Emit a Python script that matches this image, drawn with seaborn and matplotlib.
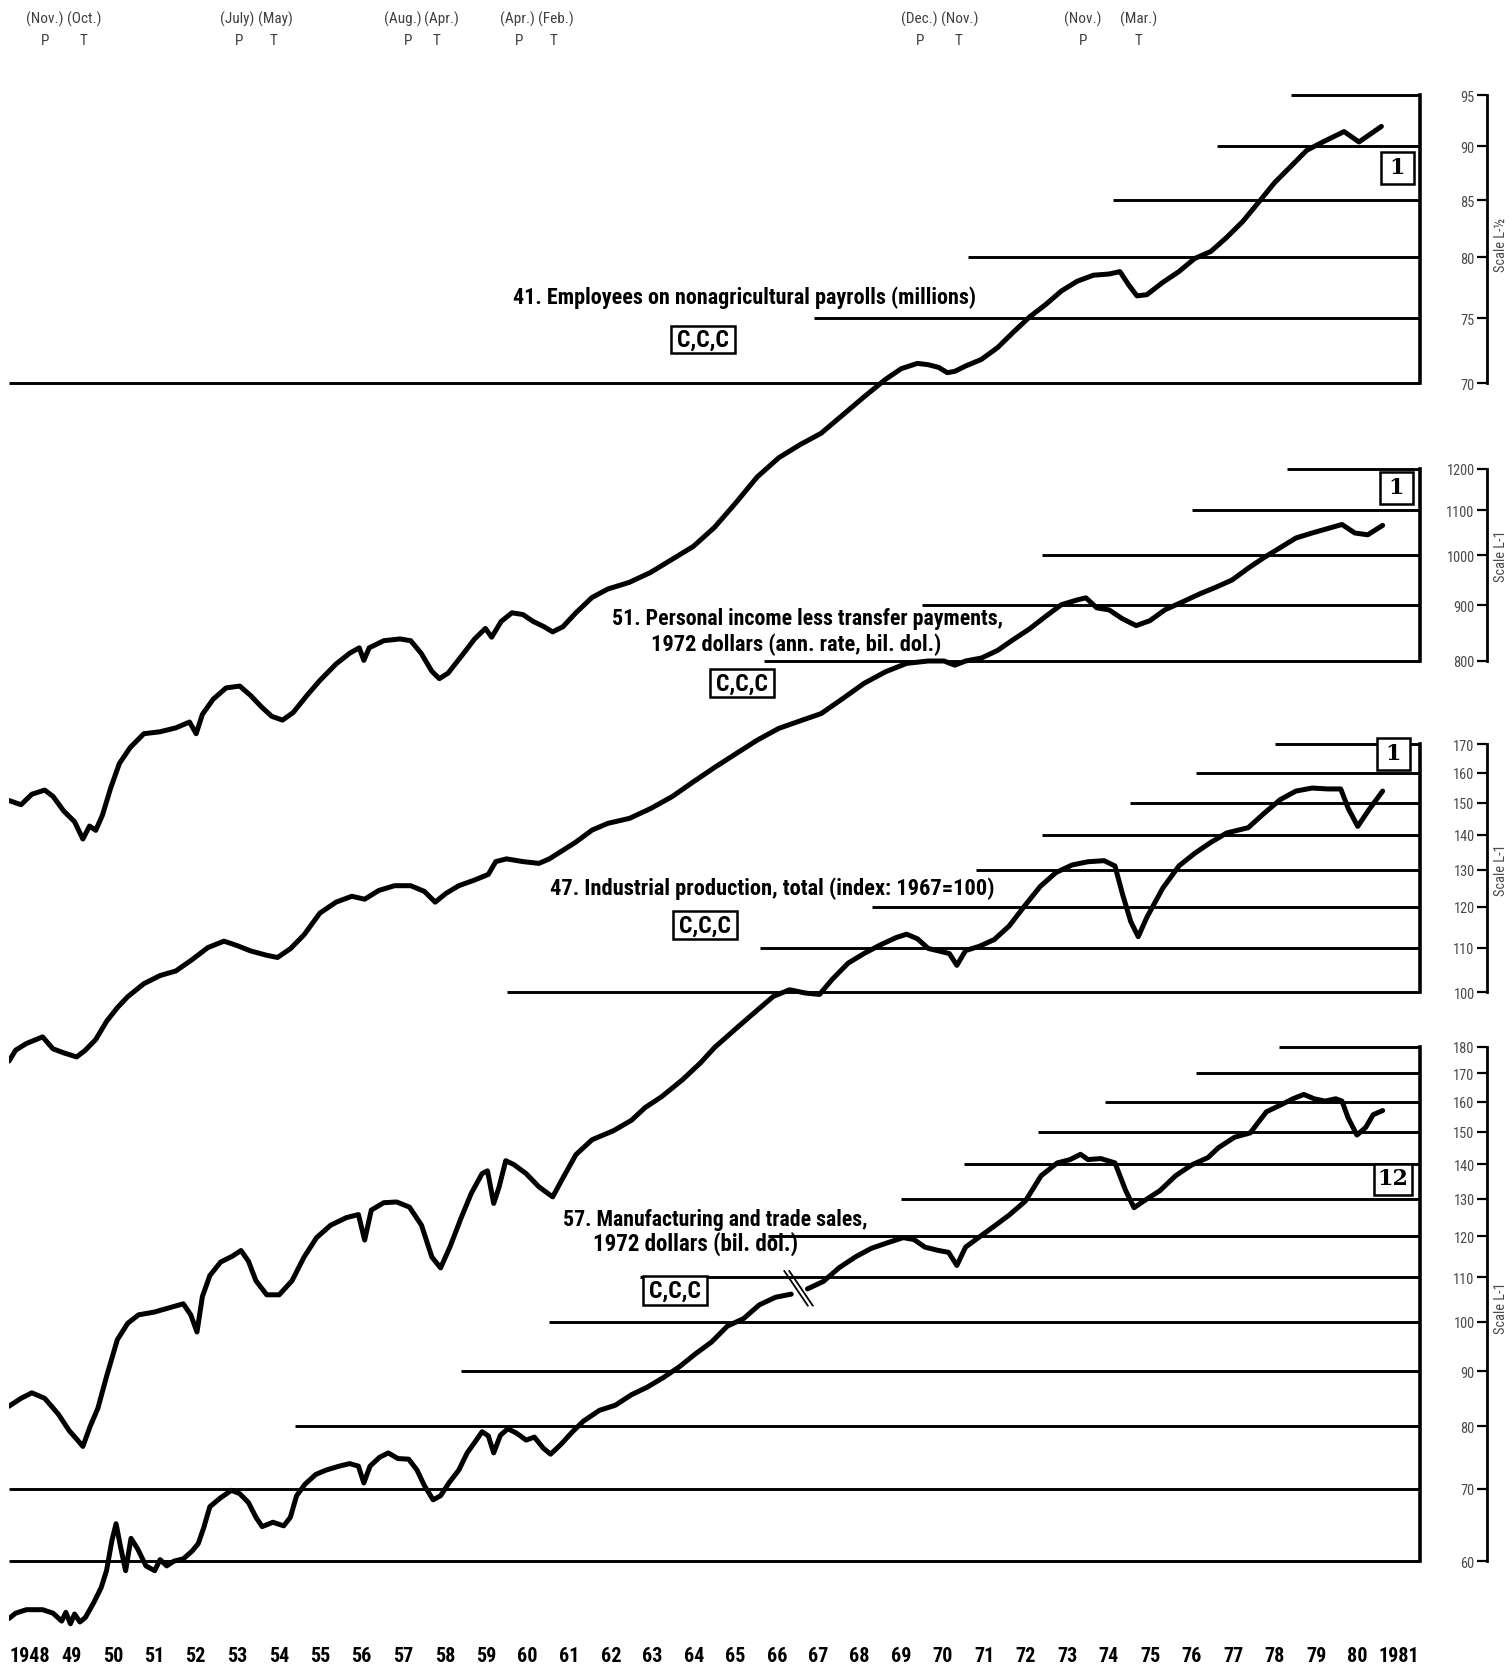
import numpy as np
import matplotlib
matplotlib.use("Agg")
import matplotlib.pyplot as plt
import matplotlib.transforms as mtransforms
from matplotlib import font_manager as fm
from matplotlib.patches import Rectangle
from matplotlib.ticker import NullLocator
import seaborn as sns

# ---------------- data ----------------
# 41. Employees on nonagricultural payrolls (millions)
emp_year = [1948.00,1948.29,1948.55,1948.86,1949.06,1949.32,1949.58,1949.78,1949.94,1950.09,
            1950.25,1950.45,1950.66,1950.92,1951.25,1951.64,1952.02,1952.35,1952.51,1952.66,
            1952.92,1953.23,1953.56,1953.82,1954.08,1954.33,1954.59,1954.85,1955.18,1955.49,
            1955.88,1956.21,1956.44,1956.55,1956.68,1957.03,1957.42,1957.68,1957.93,1958.19,
            1958.37,1958.58,1958.89,1959.22,1959.48,1959.63,1959.86,1960.12,1960.38,1960.63,
            1960.89,1961.10,1961.35,1961.66,1962.05,1962.43,1962.95,1963.46,1963.98,1964.49,
            1965.00,1965.52,1966.03,1966.55,1967.06,1967.57,1968.09,1968.60,1969.12,1969.50,
            1969.89,1970.15,1970.40,1970.61,1970.79,1971.05,1971.43,1971.82,1972.20,1972.59,
            1972.98,1973.36,1973.74,1974.13,1974.51,1974.77,1974.98,1975.18,1975.42,1975.80,
            1976.19,1976.57,1976.96,1977.34,1977.73,1978.11,1978.50,1978.89,1979.27,1979.66,
            1980.17,1980.53,1981.07]
emp_val = [45.0,44.8,45.3,45.5,45.2,44.5,44.0,43.2,43.8,43.6,
           44.3,45.6,46.8,47.6,48.3,48.4,48.6,48.9,48.3,49.3,
           50.1,50.7,50.8,50.3,49.7,49.2,49.0,49.4,50.3,51.1,
           52.0,52.6,52.9,52.2,52.9,53.3,53.4,53.3,52.6,51.6,
           51.2,51.5,52.4,53.4,54.0,53.5,54.4,54.9,54.8,54.4,
           54.1,53.8,54.1,54.9,55.8,56.3,56.7,57.3,58.1,58.9,
           60.1,61.7,63.4,64.7,65.6,66.4,67.7,69.0,70.3,71.1,
           71.5,71.4,71.2,70.8,70.9,71.3,71.8,72.7,73.9,75.1,
           76.1,77.2,78.0,78.5,78.6,78.8,77.7,76.8,76.9,77.9,
           78.8,79.9,80.5,81.7,83.1,84.8,86.6,88.1,89.6,90.4,
           91.4,90.4,91.9]

# 51. Personal income less transfer payments, 1972 dollars (ann. rate, bil. dol.)
inc_year = [1948.00,1948.16,1948.42,1948.81,1949.06,1949.32,1949.63,1949.84,1950.09,1950.35,
            1950.61,1950.86,1951.25,1951.64,1952.02,1952.41,1952.79,1953.18,1953.49,1953.82,
            1954.21,1954.47,1954.78,1955.11,1955.49,1955.88,1956.26,1956.57,1956.91,1957.29,
            1957.68,1958.01,1958.27,1958.53,1958.84,1959.22,1959.55,1959.73,1959.99,1960.38,
            1960.77,1961.02,1961.36,1961.66,1962.05,1962.43,1962.95,1963.46,1963.98,1964.49,
            1965.00,1965.52,1966.03,1966.55,1967.06,1967.57,1968.09,1968.60,1969.12,1969.63,
            1970.15,1970.53,1970.79,1971.05,1971.43,1971.82,1972.20,1972.59,1972.98,1973.36,
            1973.74,1973.95,1974.21,1974.51,1974.82,1975.16,1975.49,1975.85,1976.27,1976.70,
            1977.09,1977.47,1977.86,1978.24,1978.63,1979.01,1979.40,1979.78,1980.12,1980.43,
            1980.74,1981.10]
inc_val = [344,352,357,362,353,350,347,352,360,374,
           385,394,405,412,416,426,437,443,439,434,
           430,428,436,449,470,481,487,484,493,498,
           498,492,481,490,498,504,510,524,527,524,
           522,527,537,546,560,568,574,586,601,620,
           639,658,677,694,705,716,739,763,782,796,
           800,800,793,800,805,818,837,856,879,901,
           910,914,895,891,875,862,871,891,906,922,
           935,949,973,995,1016,1037,1048,1058,1067,1048,
           1044,1065]

# 47. Industrial production, total (index: 1967=100)
ip_year = [1948.00,1948.29,1948.55,1948.86,1949.19,1949.45,1949.63,1949.78,1949.96,1950.14,
           1950.35,1950.61,1950.86,1951.12,1951.50,1951.89,1952.20,1952.38,1952.53,1952.66,
           1952.84,1953.10,1953.38,1953.59,1953.77,1953.95,1954.21,1954.51,1954.82,1955.11,
           1955.41,1955.75,1956.13,1956.42,1956.57,1956.73,1957.03,1957.34,1957.65,1957.94,
           1958.19,1958.40,1958.63,1958.89,1959.14,1959.40,1959.53,1959.68,1959.81,1959.97,
           1960.17,1960.46,1960.77,1961.10,1961.36,1961.66,1962.05,1962.56,1963.00,1963.33,
           1963.72,1964.23,1964.67,1965.00,1965.52,1966.03,1966.42,1966.81,1967.19,1967.53,
           1967.84,1968.22,1968.60,1968.99,1969.38,1969.63,1969.89,1970.15,1970.45,1970.66,
           1970.84,1971.05,1971.38,1971.74,1972.10,1972.46,1972.85,1973.23,1973.62,1974.00,
           1974.39,1974.65,1974.83,1975.03,1975.21,1975.42,1975.80,1976.19,1976.57,1976.96,
           1977.34,1977.86,1978.24,1978.63,1979.01,1979.40,1979.78,1980.09,1980.27,1980.50,
           1980.76,1981.10]
ip_val = [41.2,41.9,42.4,41.9,40.5,39.1,38.4,37.8,39.5,41.0,
          43.9,47.5,49.2,50.1,50.4,50.9,51.3,50.1,48.3,52.1,
          54.5,56.1,56.8,57.5,56.2,53.9,52.3,52.3,53.9,56.7,
          59.1,60.7,61.7,62.1,58.8,62.7,63.7,63.8,63.1,60.7,
          56.7,55.4,58.0,61.6,65.0,67.8,68.2,63.6,65.9,69.7,
          69.1,67.8,65.9,64.5,67.3,70.6,72.9,74.3,76.0,78.1,
          79.9,82.9,86.0,88.8,92.5,96.2,99.1,100.5,99.8,99.5,
          102.8,106.4,108.6,110.6,112.4,113.2,112.1,109.8,109.1,108.6,
          105.9,109.3,110.3,111.9,115.2,120.1,125.4,129.2,131.3,132.2,
          132.5,131.0,123.4,116.3,112.6,117.4,124.9,131.0,134.6,137.8,
          140.6,142.2,146.6,151.0,153.8,154.8,154.5,154.5,148.2,142.6,
          147.6,153.8]

# 57. Manufacturing and trade sales, 1972 dollars (bil. dol.) -- two segments (series break)
mts_year_a = [1948.00,1948.16,1948.42,1948.81,1949.06,1949.27,1949.37,1949.48,1949.58,1949.71,
              1949.84,1950.04,1950.22,1950.35,1950.48,1950.58,1950.69,1950.81,1950.94,1951.10,
              1951.30,1951.51,1951.64,1951.80,1951.97,1952.20,1952.41,1952.56,1952.69,1952.84,
              1953.10,1953.36,1953.56,1953.77,1953.95,1954.10,1954.36,1954.62,1954.78,1954.93,
              1955.13,1955.39,1955.65,1955.96,1956.21,1956.42,1956.55,1956.70,1956.93,1957.14,
              1957.37,1957.63,1957.83,1958.01,1958.22,1958.40,1958.60,1958.84,1959.04,1959.22,
              1959.40,1959.55,1959.68,1959.84,1960.02,1960.22,1960.46,1960.66,1960.87,1961.05,
              1961.30,1961.58,1961.84,1962.23,1962.61,1963.00,1963.38,1963.77,1964.16,1964.54,
              1964.93,1965.31,1965.70,1966.08,1966.47,1966.85]
mts_val_a = [53.1,53.7,54.1,54.1,53.7,52.8,53.8,52.5,53.6,52.7,
             53.2,54.9,56.7,58.8,62.7,65.0,61.8,58.8,63.0,61.6,
             59.4,58.8,60.2,59.4,60.0,60.3,61.3,62.3,64.4,67.4,
             68.7,69.8,69.3,68.0,65.9,64.6,65.2,64.7,65.9,69.0,
             70.7,72.2,72.9,73.5,73.9,73.5,70.9,73.5,74.9,75.6,
             74.7,74.6,72.9,70.5,68.4,69.0,70.9,72.9,75.6,77.3,
             79.1,78.4,75.6,78.5,79.6,78.9,77.7,78.2,76.4,75.4,
             77.0,79.1,80.9,82.8,83.7,85.6,87.0,88.8,90.9,93.4,
             95.8,99.1,100.7,103.7,105.4,106.1]
mts_year_b = [1967.24,1967.62,1968.01,1968.40,
              1968.78,1969.17,1969.55,1969.81,1970.07,1970.38,1970.64,1970.84,1971.05,1971.36,
              1971.72,1972.10,1972.49,1972.87,1973.26,1973.57,1973.82,1974.00,1974.31,1974.65,
              1974.91,1975.11,1975.34,1975.73,1976.11,1976.50,1976.89,1977.14,1977.53,1977.91,
              1978.30,1978.63,1978.94,1979.20,1979.45,1979.71,1979.97,1980.12,1980.27,1980.48,
              1980.69,1980.87,1981.10]
mts_val_b = [107.3,109.0,112.3,114.9,
             117.0,118.4,119.7,119.2,117.3,116.5,116.0,112.8,117.3,119.7,
             122.5,125.6,129.4,136.6,140.4,141.4,143.0,141.4,141.7,140.4,
             132.3,127.6,129.4,132.3,136.6,139.8,142.0,145.0,148.3,149.7,
             156.6,158.8,161.0,162.5,161.0,160.2,161.0,160.2,154.5,149.0,
             151.4,155.6,157.0]

# scale levels and start year of each reference line
emp_levels = [95, 90, 85, 80, 75, 70]
emp_starts = [1978.9, 1977.1, 1974.6, 1971.1, 1967.4, 1948.0]
inc_levels = [1200, 1100, 1000, 900, 800]
inc_starts = [1978.8, 1976.5, 1972.9, 1970.0, 1966.2]
ip_levels = [170, 160, 150, 140, 130, 120, 110, 100]
ip_starts = [1978.5, 1976.6, 1975.0, 1972.9, 1971.3, 1968.8, 1966.1, 1960.0]
mts_levels = [180, 170, 160, 150, 140, 130, 120, 110, 100, 90, 80, 70, 60]
mts_starts = [1978.6, 1976.6, 1974.4, 1972.8, 1971.0, 1969.5, 1966.3, 1963.2, 1961.0,
              1958.9, 1954.9, 1948.0, 1948.0]

# business cycle peaks (P) and troughs (T)
peak_dates = [1948.875, 1953.54, 1957.625, 1960.29, 1969.96, 1973.875]
peak_months = ["(Nov.)", "(July)", "(Aug.)", "(Apr.)", "(Dec.)", "(Nov.)"]
trough_dates = [1949.79, 1954.375, 1958.29, 1961.125, 1970.875, 1975.21]
trough_months = ["(Oct.)", "(May)", "(Apr.)", "(Feb.)", "(Nov.)", "(Mar.)"]

year_ticks = [1948.5 + i for i in range(34)]
year_labels = ["1948"] + [f"{y % 100:02d}" for y in range(1949, 1981)] + ["1981"]


# ---------------- fonts ----------------
def pick_condensed():
    ttf = fm.fontManager.ttflist
    names = {f.name for f in ttf}
    for p in ["Liberation Sans Narrow", "Roboto Condensed", "Open Sans Condensed",
              "Noto Sans Condensed", "Arial Narrow", "Nimbus Sans Narrow", "DejaVu Sans Condensed"]:
        if p in names:
            return p, "normal"
    for want in ("condensed", "semi-condensed", "extra-condensed"):
        for fam in ("DejaVu Sans", "Noto Sans", "Roboto", "Open Sans", "Liberation Sans", "Lato", "Inter"):
            for f in ttf:
                if f.name == fam and str(f.stretch) == want:
                    return fam, want
    return "DejaVu Sans", "normal"


FAM, STRETCH = pick_condensed()

sns.set_theme(style="white")
plt.rcParams["font.family"] = [FAM, "DejaVu Sans"]
plt.rcParams["font.stretch"] = STRETCH

# ---------------- figure ----------------
W, H = 1512, 1674
fig = plt.figure(figsize=(W / 100, H / 100), dpi=100)
AX_TOP, AX_BOT = 60, 1645
X_LEFT, X_RIGHT = 9, 1420
ax1 = fig.add_axes([X_LEFT / W, 1 - AX_BOT / H, (X_RIGHT - X_LEFT) / W, (AX_BOT - AX_TOP) / H])
axes = [ax1, ax1.twinx(), ax1.twinx(), ax1.twinx()]


def ylim_from(va, pa, vb, pb):
    k = (np.log(va) - np.log(vb)) / (pb - pa)
    return (np.exp(np.log(va) - (AX_BOT - pa) * k), np.exp(np.log(va) + (pa - AX_TOP) * k))


panels = [
    dict(levels=emp_levels, starts=emp_starts, calib=(95, 96.1, 70, 384.4),
         series=[(emp_year, emp_val)], scale="Scale L-\u00bd", scale_y=245),
    dict(levels=inc_levels, starts=inc_starts, calib=(1200, 469.8, 800, 662.0),
         series=[(inc_year, inc_val)], scale="Scale L-1", scale_y=556),
    dict(levels=ip_levels, starts=ip_starts, calib=(170, 745.3, 100, 993.1),
         series=[(ip_year, ip_val)], scale="Scale L-1", scale_y=870),
    dict(levels=mts_levels, starts=mts_starts, calib=(180, 1047.5, 60, 1562.2),
         series=[(mts_year_a, mts_val_a), (mts_year_b, mts_val_b)], scale="Scale L-1", scale_y=1308),
]

XMIN, XMAX = 1948.0, 1982.0
scale_texts = []
for ax, p in zip(axes, panels):
    ax.set_xlim(XMIN, XMAX)
    ax.set_yscale("log")
    ax.set_ylim(*ylim_from(*p["calib"]))
    lo, hi = min(p["levels"]), max(p["levels"])
    ax.hlines(p["levels"], p["starts"], XMAX, colors="black", linewidth=2.1, zorder=2)
    for xs, ys in p["series"]:
        sns.lineplot(x=xs, y=ys, ax=ax, color="black", linewidth=3.6, sort=False,
                     estimator=None, legend=False, zorder=3, solid_capstyle="round")
    ax.set_xlabel("")
    ax.set_ylabel("")
    ax.set_yticks(p["levels"], labels=[str(v) for v in p["levels"]])
    ax.yaxis.set_minor_locator(NullLocator())
    ax.yaxis.set_ticks_position("left")
    ax.tick_params(axis="y", which="major", direction="out", length=7, width=1.6, pad=2,
                   labelsize=10, labelcolor="#4a4a4a", color="black",
                   left=True, right=False, labelleft=True, labelright=False)
    for side in ("top", "bottom"):
        ax.spines[side].set_visible(False)
    ax.spines["left"].set_position(("axes", 1.0475))
    ax.spines["left"].set_bounds(lo, hi)
    ax.spines["left"].set_linewidth(2.0)
    ax.spines["left"].set_color("black")
    ax.spines["left"].set_visible(True)
    ax.spines["right"].set_position(("axes", 1.0))
    ax.spines["right"].set_bounds(lo, hi)
    ax.spines["right"].set_linewidth(2.6)
    ax.spines["right"].set_color("black")
    ax.spines["right"].set_visible(True)
    ax.grid(False)
    scale_texts.append(fig.text(1501 / W, 1 - p["scale_y"] / H, p["scale"], rotation=90,
                                ha="center", va="center", fontsize=10, color="#4a4a4a"))

# series break mark on the manufacturing and trade sales line
brk_x = [1966.68, 1967.25]
brk_y = [111.5, 103.5]
for dx in (0.0, 0.12):
    axes[3].plot([brk_x[0] + dx, brk_x[1] + dx], brk_y, color="black", linewidth=1.3, zorder=4)

# x axis: year labels
ax1.set_xticks(year_ticks, labels=year_labels, fontsize=14, fontweight="bold")
ax1.tick_params(axis="x", length=0, pad=1.5, labelcolor="black", bottom=True, labelbottom=True)

# peaks / troughs header
trans = mtransforms.blended_transform_factory(ax1.transData, fig.transFigure)
hdr_kw = dict(transform=trans, ha="center", va="center", fontsize=10, color="#404040")
peak_txt = [ax1.text(d, 1 - 19 / H, m, **hdr_kw) for d, m in zip(peak_dates, peak_months)]
trough_txt = [ax1.text(d, 1 - 19 / H, m, **hdr_kw) for d, m in zip(trough_dates, trough_months)]
letter_txt = [ax1.text(d, 1 - 41 / H, "P", **hdr_kw) for d in peak_dates]
letter_txt += [ax1.text(d, 1 - 41 / H, "T", **hdr_kw) for d in trough_dates]

# titles
tkw = dict(fontsize=16, fontweight="bold", color="black", va="center", ha="left")
titles = [
    (fig.text(513 / W, 1 - 298 / H, "41. Employees on nonagricultural payrolls (millions)", **tkw), 462),
    (fig.text(612 / W, 1 - 619 / H, "51. Personal income less transfer payments,", **tkw), 390),
    (fig.text(651 / W, 1 - 645 / H, "1972 dollars (ann. rate, bil. dol.)", **tkw), 291),
    (fig.text(550 / W, 1 - 889 / H, "47. Industrial production, total (index: 1967=100)", **tkw), 446),
    (fig.text(563 / W, 1 - 1220 / H, "57. Manufacturing and trade sales,", **tkw), 304),
    (fig.text(593 / W, 1 - 1244 / H, "1972 dollars (bil. dol.)", **tkw), 206),
]

# boxed labels (center x, center y, width, height in figure pixels)
box_specs = [(703, 340, 64, 27, "C,C,C"), (742, 684, 64, 28, "C,C,C"),
             (705, 926, 64, 28, "C,C,C"), (675, 1291, 64, 29, "C,C,C"),
             (1397, 169, 33, 32, "1"), (1396, 489, 33, 32, "1"),
             (1393, 755, 33, 32, "1"), (1393, 1180, 38, 31, "12")]
box_txt = []
for cx, cy, bw, bh, s in box_specs:
    fig.add_artist(Rectangle(((cx - bw / 2) / W, 1 - (cy + bh / 2) / H), bw / W, bh / H,
                             transform=fig.transFigure, facecolor="white", edgecolor="black",
                             linewidth=1.8, zorder=5))
    if s.startswith("C"):
        t = fig.text(cx / W, 1 - cy / H, s, fontsize=15, fontweight="bold", ha="center",
                     va="center", color="black", zorder=6)
        box_txt.append((t, 52))
    else:
        fig.text(cx / W, 1 - (cy - 1) / H, s, fontsize=16, fontweight="bold", ha="center",
                 va="center", color="black", zorder=6, family="DejaVu Serif")

# ---------------- fit text widths to the reference ----------------
fig.canvas.draw()
rend = fig.canvas.get_renderer()


def fit_width(txt, target, cap=None):
    w = txt.get_window_extent(rend).width
    if w > 0:
        fs = txt.get_fontsize() * target / w
        if cap is not None:
            fs = min(fs, cap)
        txt.set_fontsize(fs)
    return txt.get_fontsize()


for t, target in titles:
    fit_width(t, target, cap=19)
for t, target in box_txt:
    fit_width(t, target, cap=17)

# year labels: "49" about 22 px wide (kept small enough to stay inside the figure)
xl = ax1.get_xticklabels()
w49 = xl[1].get_window_extent(rend).width
x_fs = min(14 * 22 / w49, 14.5)
ax1.tick_params(axis="x", labelsize=x_fs)

# scale numbers: "1200" about 28 px wide
yl = axes[1].get_yticklabels()
w1200 = yl[0].get_window_extent(rend).width
y_fs = min(10 * 28 / w1200, 11)
for ax in axes:
    ax.tick_params(axis="y", labelsize=y_fs)
for t in scale_texts:
    t.set_fontsize(y_fs)

# header labels: "(Nov.)" about 40 px wide
hfs = fit_width(peak_txt[0], 40, cap=11)
for t in peak_txt + trough_txt + letter_txt:
    t.set_fontsize(hfs)
fig.canvas.draw()
px_per_year = (X_RIGHT - X_LEFT) / (XMAX - XMIN)
for pt, tt, pd_, td in zip(peak_txt, trough_txt, peak_dates, trough_dates):
    wp = pt.get_window_extent(rend).width
    wt = tt.get_window_extent(rend).width
    gap_px = (td - pd_) * px_per_year
    need = wp / 2 + wt / 2 + 3
    if gap_px < need:
        shift = (need - gap_px) / 2 / px_per_year
        pt.set_x(pd_ - shift)
        tt.set_x(td + shift)

fig.savefig("out.png", dpi=100)
